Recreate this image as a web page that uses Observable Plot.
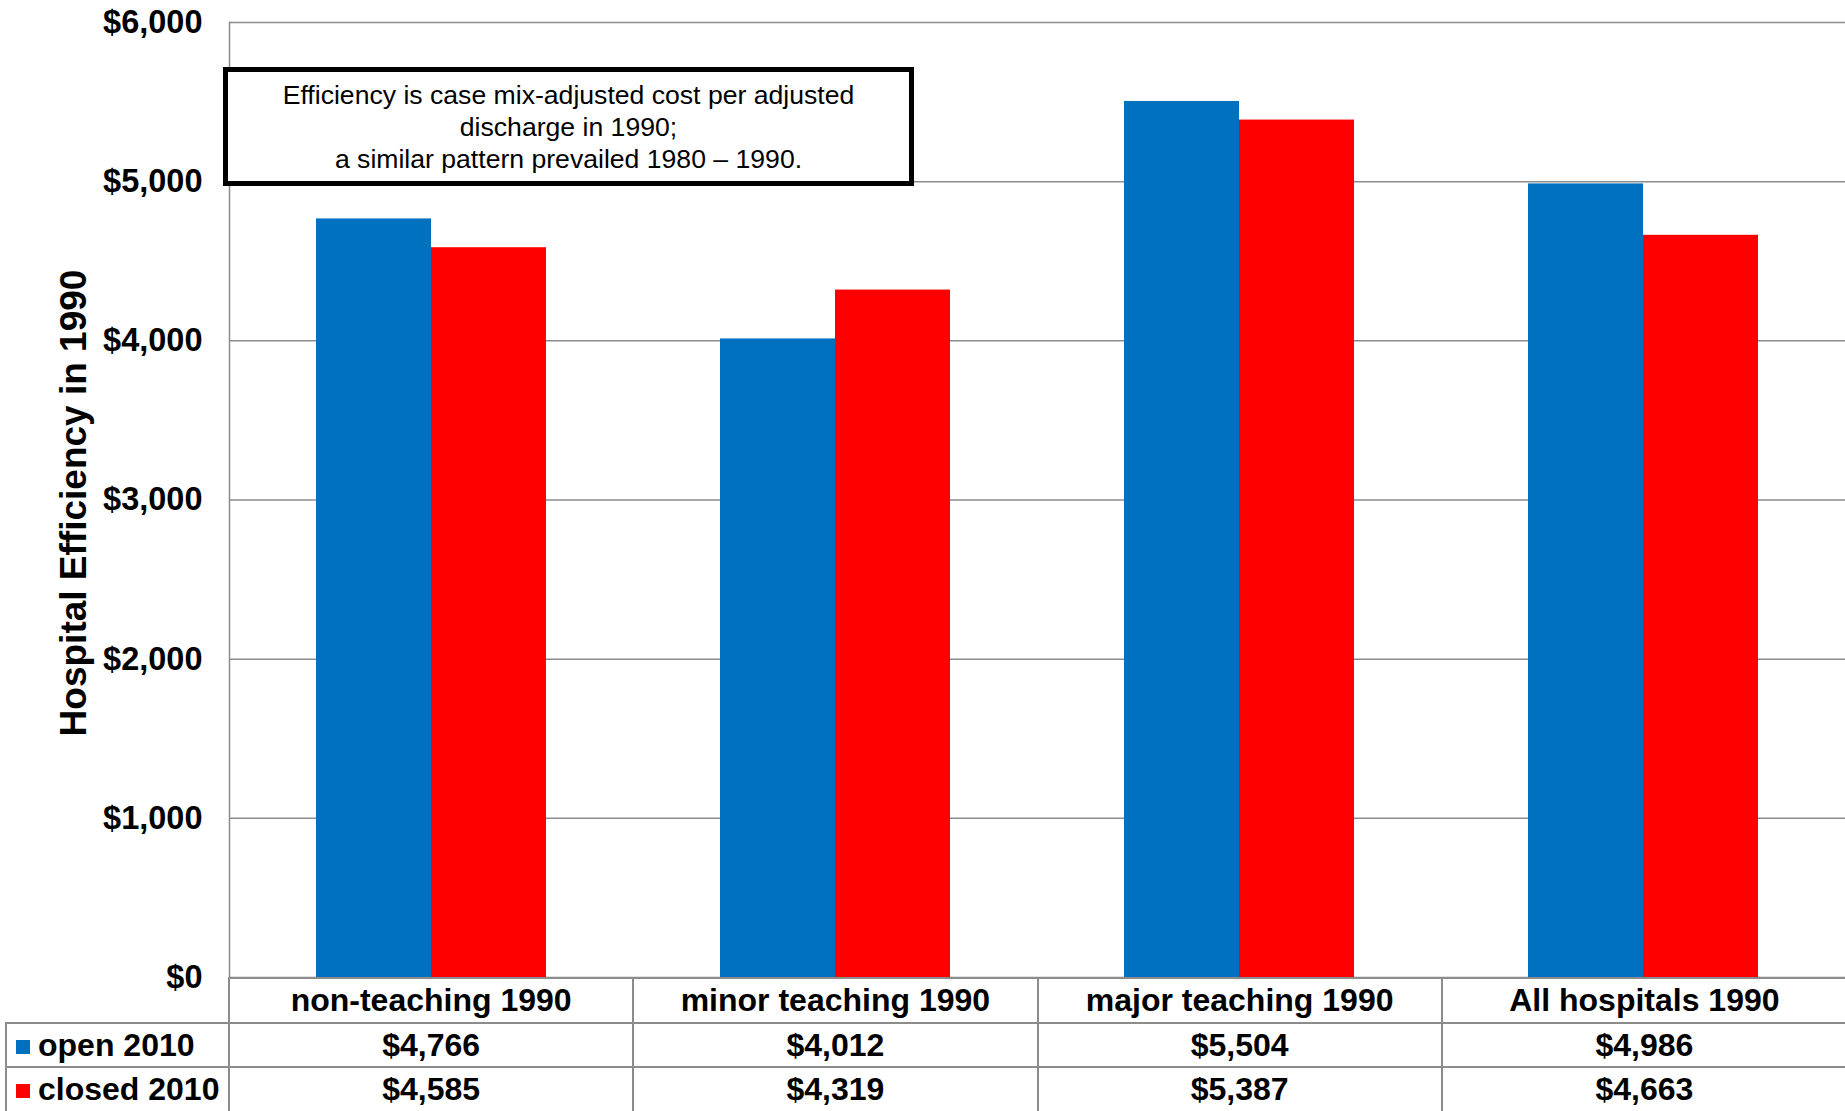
<!DOCTYPE html>
<html><head><meta charset="utf-8">
<script src="https://cdn.jsdelivr.net/npm/d3@7"></script>
<script src="https://cdn.jsdelivr.net/npm/@observablehq/plot@0.6"></script>
<style>
body{margin:0;background:#fff;font-family:"Liberation Sans",Arial,sans-serif;}
#wrap{position:relative;width:1845px;height:1111px;overflow:hidden;}
#wrap svg{display:block;}
table{border-collapse:collapse;table-layout:fixed;margin-left:5px;margin-top:-13px;width:1840px;position:relative;}
td{border:2px solid #8c8c8c;height:42.5px;padding:0;text-align:center;font-weight:bold;font-size:32px;color:#000;line-height:1;white-space:nowrap;}
td.leg{text-align:left;padding-left:9px;}
td.corner{border-top:none;border-left:none;border-bottom:2px solid #8c8c8c;}
td.last{border-right:none;}
.mk{display:inline-block;width:14px;height:14px;margin-right:8px;vertical-align:2px;}
#note{position:absolute;left:223px;top:67px;width:681px;height:109px;border:5px solid #000;background:#fff;
  display:flex;flex-direction:column;justify-content:center;align-items:center;font-size:26.6px;line-height:32px;color:#000;}
</style></head><body><div id="wrap"></div>
<script>
const categories = ["non-teaching 1990", "minor teaching 1990", "major teaching 1990", "All hospitals 1990"];
const seriesNames = ["open 2010", "closed 2010"];
const seriesColors = ["#0070C0", "#FF0000"];
const openValues = [4766, 4012, 5504, 4986];
const closedValues = [4585, 4319, 5387, 4663];
const yTicks = [0, 1000, 2000, 3000, 4000, 5000, 6000];
const yTitle = "Hospital Efficiency in 1990";
const noteLines = ["Efficiency is case mix-adjusted cost per adjusted", "discharge in 1990;", "a similar pattern prevailed 1980 \u2013 1990."];

const seriesValues = [openValues, closedValues];
const data = categories.flatMap((c, i) => seriesNames.map((s, j) => ({category: c, series: s, value: seriesValues[j][i]})));
const money = d => "$" + d3.format(",")(d);

const chart = Plot.plot({
  width: 1845, height: 990,
  marginLeft: 228, marginRight: 0, marginTop: 22, marginBottom: 13,
  style: {fontFamily: "Liberation Sans, Arial, sans-serif", background: "transparent", overflow: "visible"},
  fx: {domain: categories, padding: 0, axis: null},
  x: {domain: seriesNames, paddingInner: 0, paddingOuter: 0.75, axis: null},
  y: {domain: [0, 6000], axis: null},
  color: {domain: seriesNames, range: seriesColors},
  marks: [
    Plot.gridY(yTicks, {stroke: "#8c8c8c", strokeOpacity: 1, strokeWidth: 1.5}),
    Plot.barY(data, {fx: "category", x: "series", y: "value", fill: "series"}),
    Plot.axisY(yTicks, {tickSize: 0, tickPadding: 27, tickFormat: money, fontSize: 32.5, fontWeight: "bold", fill: "#000", label: null}),
    Plot.frame({anchor: "left", stroke: "#8c8c8c", strokeWidth: 1.5, facet: "super"}),
    Plot.text([yTitle], {frameAnchor: "left", textAnchor: "middle", dx: -155, dy: 3, rotate: -90, fontSize: 37, fontWeight: "bold", fill: "#000", facet: "super"})
  ]
});
const wrap = document.getElementById("wrap");
wrap.appendChild(chart);

// data table (legend + values) below the chart
const table = document.createElement("table");
const cg = document.createElement("colgroup");
[223, 404.25, 404.25, 404.25, 404.25].forEach(w => { const c = document.createElement("col"); c.style.width = w + "px"; cg.appendChild(c); });
table.appendChild(cg);
const hr = table.insertRow();
const corner = hr.insertCell(); corner.className = "corner";
categories.forEach((c, i) => { const td = hr.insertCell(); td.textContent = c; if (i === categories.length - 1) td.className = "last"; });
seriesNames.forEach((s, j) => {
  const tr = table.insertRow();
  const lg = tr.insertCell(); lg.className = "leg";
  const mk = document.createElement("span"); mk.className = "mk"; mk.style.background = seriesColors[j];
  lg.appendChild(mk); lg.appendChild(document.createTextNode(s));
  seriesValues[j].forEach((v, i) => { const td = tr.insertCell(); td.textContent = money(v); if (i === categories.length - 1) td.className = "last"; });
});
wrap.appendChild(table);

const note = document.createElement("div");
note.id = "note";
noteLines.forEach(t => { const d = document.createElement("div"); d.textContent = t; note.appendChild(d); });
wrap.appendChild(note);
</script></body></html>
